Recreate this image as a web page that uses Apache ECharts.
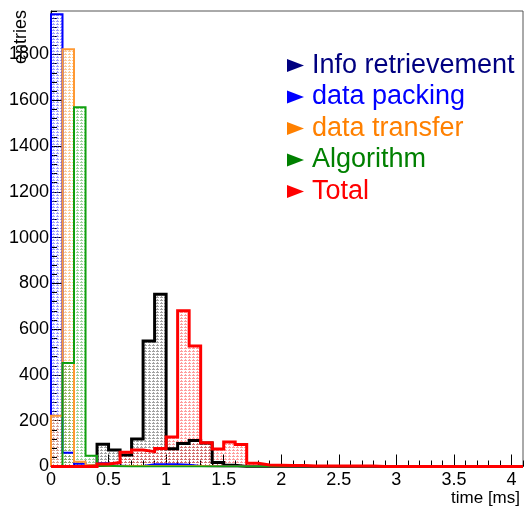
<!DOCTYPE html>
<html><head><meta charset="utf-8">
<script src="https://cdn.jsdelivr.net/npm/echarts@6/dist/echarts.min.js"></script>
<style>html,body{margin:0;padding:0;background:#fff}#c{width:525px;height:507px}</style>
</head><body><div id="c"></div>
<script>
// histogram definition: 41 bins of 0.1 ms from 0 to 4.1 ms
const binWidth = 0.1;
const xMin = 0;
const xMax = 4.1;
const yMax = 1990;
const seriesNames = ['Info retrievement', 'data packing', 'data transfer', 'Algorithm', 'Total'];

const infoRetrievement = [0,0,0,5,97,72,50,120,548,753, 78,100,114,103,17,5,0,0,0,0, 0,0,0,0,0,0,0,0,0,0, 0,0,0,0,0,0,0,0,0,0, 0];
const dataPacking      = [1976,60,12,3,14,3,2,2,10,10, 10,8,2,1,0,0,0,0,0,0, 0,0,0,0,0,0,0,0,0,0, 0,0,0,0,0,0,0,0,0,0, 0];
const dataTransfer     = [222,1823,21,6,3,2,2,2,2,2, 2,2,2,1,0,0,0,0,0,0, 0,0,0,0,0,0,0,0,0,0, 0,0,0,0,0,0,0,0,0,0, 0];
const algorithm        = [2,452,1570,47,3,1,0,0,0,0, 0,0,0,0,0,0,0,0,0,0, 0,0,0,0,0,0,0,0,0,0, 0,0,0,0,0,0,0,0,0,0, 0];
const total            = [0,0,0,0,11,17,62,72,65,79, 129,680,526,104,76,107,96,14,7,5, 4,4,2,2,2,2,2,2,0,0, 0,0,0,0,0,0,0,0,0,0, 0];

function histPoints(vals) {
  const pts = [[xMin, 0]];
  vals.forEach((v, i) => pts.push([xMin + i * binWidth, v]));
  const end = xMin + vals.length * binWidth;
  pts.push([end, vals[vals.length - 1]]);
  pts.push([end, 0]);
  return pts;
}
function pattern(color) {
  const c = document.createElement('canvas');
  c.width = 4; c.height = 3;
  const g = c.getContext('2d');
  g.fillStyle = color;
  g.fillRect(0, 0, 3, 1);
  g.fillRect(1, 2, 1, 1);
  return { image: c, repeat: 'repeat' };
}
function hist(name, vals, line, fill, w) {
  return {
    name: name, type: 'line', step: 'end', data: histPoints(vals),
    showSymbol: false, symbol: 'none', silent: true,
    lineStyle: { color: line, width: w, join: 'miter' },
    itemStyle: { color: line },
    areaStyle: { color: pattern(fill), opacity: 1 },
    xAxisIndex: 0, yAxisIndex: 0
  };
}
const font = 'Liberation Sans';
const tri = 'path://M0,0L17,6.5L0,13Z';
const legendColors = ['#000080', '#0000ff', '#ff8000', '#008000', '#ff0000'];

const chart = echarts.init(document.getElementById('c'), null, { renderer: 'canvas' });
chart.setOption({
  animation: false,
  backgroundColor: '#fff',
  grid: { left: 51, right: 2, top: 11, bottom: 40.5, show: true, borderColor: '#555', borderWidth: 1 },
  xAxis: [
    { type: 'value', min: xMin, max: xMax, interval: 0.5, position: 'bottom',
      axisLine: { show: true, lineStyle: { color: '#000', width: 1 } },
      axisTick: { inside: true, length: 12, lineStyle: { color: '#000' } },
      axisLabel: { fontSize: 18, color: '#000', margin: 5, fontFamily: font, showMaxLabel: false,
                   formatter: v => String(Math.round(v * 10) / 10) },
      splitLine: { show: false } },
    { type: 'value', min: xMin, max: xMax, interval: 0.1, position: 'bottom',
      axisLine: { show: false },
      axisTick: { inside: true, length: 6, lineStyle: { color: '#000' } },
      axisLabel: { show: false }, splitLine: { show: false } }
  ],
  yAxis: [
    { type: 'value', min: 0, max: yMax, interval: 200, position: 'left',
      axisLine: { show: true, lineStyle: { color: '#000', width: 1 } },
      axisTick: { inside: true, length: 12, lineStyle: { color: '#000' } },
      axisLabel: { fontSize: 18, color: '#000', margin: 2, fontFamily: font, showMaxLabel: false,
                   formatter: v => String(v) },
      splitLine: { show: false } },
    { type: 'value', min: 0, max: yMax, interval: 40, position: 'left',
      axisLine: { show: false },
      axisTick: { inside: true, length: 6, lineStyle: { color: '#000' } },
      axisLabel: { show: false }, splitLine: { show: false } }
  ],
  legend: {
    orient: 'vertical', left: 282, top: 47, itemWidth: 17, itemHeight: 13, itemGap: 4.5,
    selectedMode: false, align: 'left',
    textStyle: { fontSize: 27, fontFamily: font, lineHeight: 27, padding: [0, 0, 0, 3] },
    data: seriesNames.map((n, i) => ({
      name: n, icon: tri,
      itemStyle: { color: legendColors[i], borderWidth: 0 },
      textStyle: { color: legendColors[i] }
    }))
  },
  graphic: [
    { type: 'text', x: 21, y: 10, rotation: Math.PI / 2,
      style: { text: 'entries', fontSize: 18, fontFamily: font, fill: '#000', align: 'right', verticalAlign: 'middle' } },
    { type: 'text', x: 520, y: 498,
      style: { text: 'time [ms]', fontSize: 17, fontFamily: font, fill: '#000', align: 'right', verticalAlign: 'middle' } }
  ],
  series: [
    hist(seriesNames[0], infoRetrievement, '#000000', 'rgba(70,70,70,0.5)', 3),
    hist(seriesNames[1], dataPacking, '#0000ff', 'rgba(80,80,255,0.55)', 2),
    hist(seriesNames[2], dataTransfer, '#ff9933', 'rgba(255,160,60,0.55)', 2),
    hist(seriesNames[3], algorithm, '#10a010', 'rgba(60,170,60,0.5)', 2),
    hist(seriesNames[4], total, '#ff0000', 'rgba(255,60,60,0.5)', 3)
  ]
});
</script></body></html>
